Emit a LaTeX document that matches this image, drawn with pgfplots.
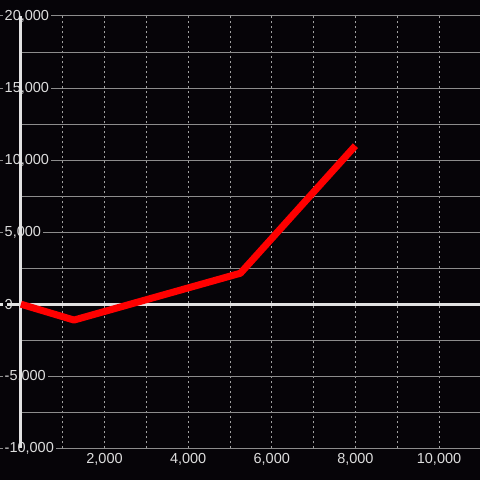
\documentclass[border=0pt]{standalone}
\usepackage{pgfplots}
\pgfplotsset{compat=1.18}
\usepackage{fontspec}
\setmainfont{Liberation Sans}
\definecolor{bg}{HTML}{060408}
\definecolor{gridc}{HTML}{8C8C8C}
\definecolor{dotc}{HTML}{A0A0A0}
\definecolor{axc}{HTML}{E2E2E2}
\definecolor{txt}{HTML}{DDDDDD}
\begin{document}
\begin{tikzpicture}
\fill[bg] (0pt,0pt) rectangle (480pt,480pt);
\begin{axis}[
  at={(0pt,31.7pt)}, anchor=south west,
  scale only axis, width=480pt, height=432.3pt,
  xmin=-500, xmax=10980, ymin=-10000, ymax=20000,
  axis line style={draw=none},
  xtick={2000,4000,6000,8000,10000},
  minor xtick={1000,3000,5000,7000,9000},
  ytick={-10000,-5000,0,5000,10000,15000,20000},
  xmajorgrids, xminorgrids, ymajorgrids,
  major grid style={draw=gridc, line width=1pt},
  x grid style={draw=dotc, line width=0.9pt, dash pattern=on 2pt off 3pt},
  minor x grid style={draw=dotc, line width=0.9pt, dash pattern=on 2pt off 3pt},
  y grid style={draw=gridc, line width=1pt},
  extra x ticks={0}, extra x tick labels={},
  extra x tick style={xmajorgrids, major grid style={draw=axc, line width=3pt, solid},
    x grid style={draw=axc, line width=3pt, solid}},
  extra y ticks={0}, extra y tick labels={},
  extra y tick style={ymajorgrids, major grid style={draw=axc, line width=3pt, solid},
    y grid style={draw=axc, line width=3pt, solid}},
  major tick length=0pt, minor tick length=0pt,
  tick style={draw=none},
  scaled ticks=false,
  /pgf/number format/assume math mode=true,
  /pgf/number format/1000 sep={,},
  ticklabel style={font=\fontsize{14.5}{16}\selectfont, text=txt},
  yticklabel style={anchor=west, fill=bg, inner xsep=2pt, inner ysep=2pt, xshift=2.5pt},
  xticklabel style={yshift=-2pt},
  clip=false,
]
\pgfplotsinvokeforeach{-7500,-2500,2500,7500,12500,17500}{
  \draw[gridc, line width=1pt] ([xshift=1.5pt]axis cs:0,#1) -- (axis cs:10980,#1);
}
\addplot[color=red, line width=7pt, line join=round, line cap=butt] coordinates {
  (0,0) (1270,-1100) (5250,2150) (8000,11000)
};
\end{axis}
\pgfresetboundingbox
\path (0pt,0pt) rectangle (480pt,480pt);
\end{tikzpicture}
\end{document}
